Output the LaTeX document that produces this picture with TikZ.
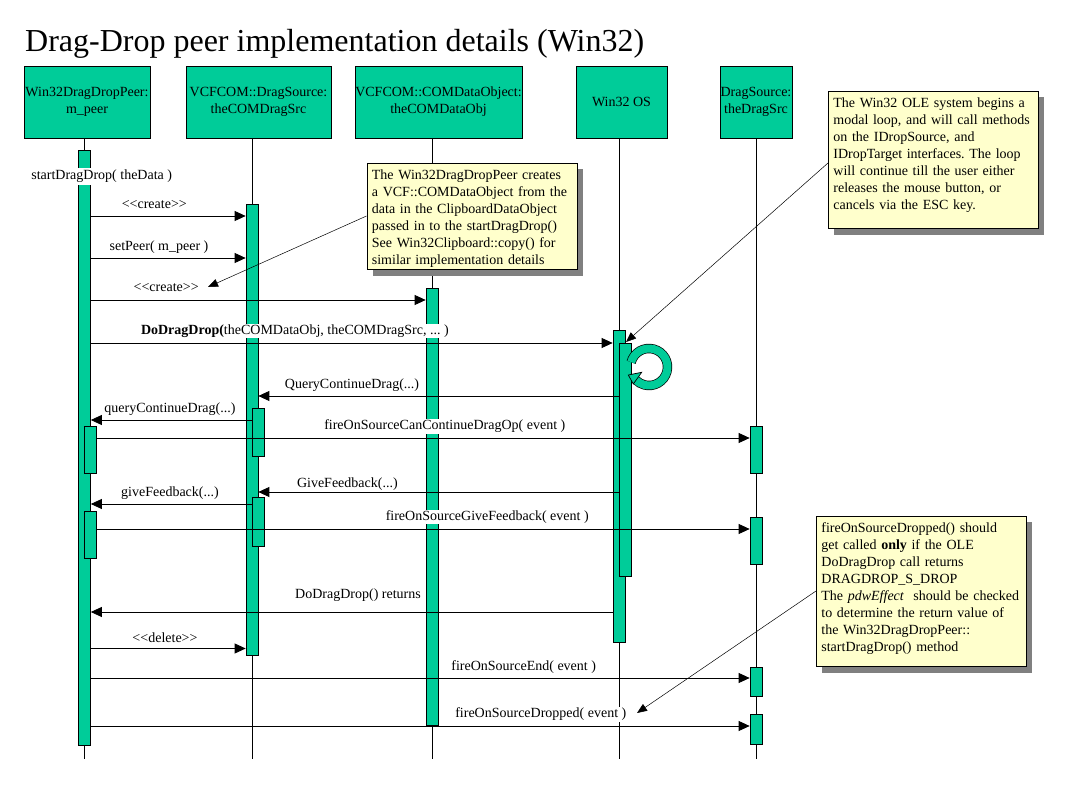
\documentclass[tikz,border=0pt]{standalone}
\usepackage{fontspec}
\setmainfont{Liberation Serif}
\usepackage{tikz}
\usetikzlibrary{arrows.meta,shadows}
\definecolor{umlgreen}{RGB}{0,204,153}
\definecolor{notebg}{RGB}{255,255,204}
\definecolor{shadowgray}{RGB}{128,128,128}
\frenchspacing

\begin{document}
\begin{tikzpicture}[x=1pt,y=-1pt,font=\fontsize{14}{17}\selectfont,
    object/.style={draw,fill=umlgreen,line width=0.8pt,align=center,inner sep=0pt,minimum height=72pt},
    activation/.style={draw,fill=umlgreen,line width=0.7pt,minimum width=12pt,inner sep=0pt,anchor=north},
    lifeline/.style={line width=0.7pt},
    msg/.style={line width=0.8pt,-{Triangle[length=11pt,width=10pt]}},
    lbl/.style={fill=white,inner sep=1pt},
    note/.style={draw,fill=notebg,line width=0.8pt,align=left,anchor=north west,inner xsep=5pt,inner ysep=6pt,
      text width=200pt,drop shadow={shadow xshift=6pt,shadow yshift=-6pt,fill=shadowgray,opacity=1}},
    pointer/.style={line width=0.5pt,-{Triangle[length=10pt,width=8pt]}}]
    \useasboundingbox (0,0) rectangle (1080,810);

    \node[anchor=base west,inner sep=0pt,font=\fontsize{32}{38}\selectfont] (title) at (25,52)
      {Drag-Drop peer implementation details (Win32)};

    \node[object,minimum width=126pt] (peer) at (87,102) {Win32DragDropPeer:\\m\_peer};
    \node[object,minimum width=145pt] (dragsrc) at (258.5,102) {VCFCOM::DragSource:\\theCOMDragSrc};
    \node[object,minimum width=167pt] (dataobj) at (438.5,102) {VCFCOM::COMDataObject:\\theCOMDataObj};
    \node[object,minimum width=91pt] (os) at (621.5,102) {Win32 OS};
    \node[object,minimum width=72pt] (srcobj) at (756,102) {DragSource:\\theDragSrc};

    \coordinate (endA) at (84.5,759);
    \coordinate (endB) at (252,759);
    \coordinate (endC) at (432,759);
    \coordinate (endD) at (619,759);
    \coordinate (endE) at (756,759);
    \draw[lifeline] (peer.south -| endA) -- (endA);
    \draw[lifeline] (dragsrc.south -| endB) -- (endB);
    \draw[lifeline] (dataobj.south -| endC) -- (endC);
    \draw[lifeline] (os.south -| endD) -- (endD);
    \draw[lifeline] (srcobj.south -| endE) -- (endE);

    \node[activation,minimum height=595pt] (actA) at (84.5,150) {};
    \node[activation,minimum height=450.5pt] (actB) at (252,204.5) {};
    \node[activation,minimum height=437pt] (actC) at (432,288) {};
    \node[activation,minimum height=312pt] (actD) at (619,330) {};
    \node[activation,minimum height=233pt] (actD1) at (625,343) {};
    \node[activation,minimum height=48.5pt] (actB1) at (258,408) {};
    \node[activation,minimum height=49pt] (actB2) at (258,497) {};
    \node[activation,minimum height=47pt] (actA1) at (90.5,426.5) {};
    \node[activation,minimum height=47pt] (actA2) at (90.5,510.5) {};
    \node[activation,minimum height=47pt] (actE1) at (756,426.5) {};
    \node[activation,minimum height=47.5pt] (actE2) at (756,516.5) {};
    \node[activation,minimum height=29pt] (actE3) at (756,667) {};
    \node[activation,minimum height=30pt] (actE4) at (756,714) {};

    \node[lbl,inner ysep=2.5pt] (start) at (101.7,176.5) {startDragDrop( theData )};

    \draw[msg] (actA.east |- 0,216) -- node[lbl,pos=0.41,yshift=11pt] {<\kern0pt<create>\kern0pt>} (actB.west |- 0,216);
    \draw[msg] (actA.east |- 0,258) -- node[lbl,pos=0.44,yshift=11pt] {setPeer( m\_peer )} (actB.west |- 0,258);
    \draw[msg] (actA.east |- 0,300) -- node[lbl,pos=0.225,yshift=12pt] {<\kern0pt<create>\kern0pt>} (actC.west |- 0,300);
    \draw[msg] (actA.east |- 0,343) -- node[lbl,pos=0.391,yshift=12pt]
      {\textbf{DoDragDrop(}theCOMDataObj, theCOMDragSrc, ... )} (actD.west |- 0,343);
    \draw[msg] (actD1.west |- 0,396) -- node[lbl,pos=0.74,yshift=11pt] {QueryContinueDrag(...)} (actB.east |- 0,396);
    \draw[msg] (actB1.west |- 0,420) -- node[lbl,pos=0.508,yshift=11pt] {queryContinueDrag(...)} (actA.east |- 0,420);
    \draw[msg] (actA1.east |- 0,438) -- node[lbl,pos=0.533,yshift=11.5pt] {fireOnSourceCanContinueDragOp( event )} (actE1.west |- 0,438);
    \draw[msg] (actD1.west |- 0,492) -- node[lbl,pos=0.753,yshift=8pt,inner sep=0.5pt] {GiveFeedback(...)} (actB.east |- 0,492);
    \draw[msg] (actB2.west |- 0,504) -- node[lbl,pos=0.508,yshift=11pt] {giveFeedback(...)} (actA.east |- 0,504);
    \draw[msg] (actA2.east |- 0,529) -- node[lbl,pos=0.598,yshift=12pt] {fireOnSourceGiveFeedback( event )} (actE2.west |- 0,529);
    \draw[msg] (actD.west |- 0,612) -- node[lbl,pos=0.488,yshift=17pt] {DoDragDrop() returns} (actA.east |- 0,612);
    \draw[msg] (actA.east |- 0,648.5) -- node[lbl,pos=0.479,yshift=10.5pt] {<\kern0pt<delete>\kern0pt>} (actB.west |- 0,648.5);
    \draw[msg] (actA.east |- 0,678) -- node[lbl,pos=0.657,yshift=11pt] {fireOnSourceEnd( event )} (actE3.west |- 0,678);
    \draw[msg] (actA.east |- 0,726) -- node[lbl,pos=0.683,yshift=11.5pt] {fireOnSourceDropped( event )} (actE4.west |- 0,726);

    \coordinate (loopc) at (649,367);
    \draw[line width=0.7pt,double=umlgreen,double distance=8pt] (loopc) ++(-165:18.5) arc[start angle=-165,end angle=136,radius=18.5];
    \filldraw[fill=umlgreen,line width=0.7pt] (641.7,372.3) -- (633.3,384) -- (628.3,375) -- cycle;

    \node[note,text depth=84.4pt] (note1) at (366.5,163)
      {The Win32DragDropPeer creates\\a VCF::COMDataObject from the\\data in the ClipboardDataObject\\passed in to the startDragDrop()\\See Win32Clipboard::copy() for\\similar implementation details};
    \node[note,text depth=115.4pt] (note2) at (828,91)
      {The Win32 OLE system begins a\\modal loop, and will call methods\\on the IDropSource, and\\IDropTarget interfaces. The loop\\will continue till the user either\\releases the mouse button, or\\cancels via the ESC key.};
    \node[note,text depth=128.4pt] (note3) at (816,516)
      {fireOnSourceDropped() should\\get called \textbf{only} if the OLE\\DoDragDrop call returns\\DRAGDROP\_S\_DROP\\The \textit{pdwEffect}~ should be checked\\to determine the return value of\\the Win32DragDropPeer::\\startDragDrop() method};

    \coordinate (tip1) at (208,287);
    \coordinate (tip2) at (626,342);
    \coordinate (tip3) at (637,713);
    \draw[pointer] (note1.west |- 0,216) -- (tip1);
    \draw[pointer] (note2.west |- 0,163) -- (tip2);
    \draw[pointer] (note3.west |- 0,591) -- (tip3);
\end{tikzpicture}
\end{document}
